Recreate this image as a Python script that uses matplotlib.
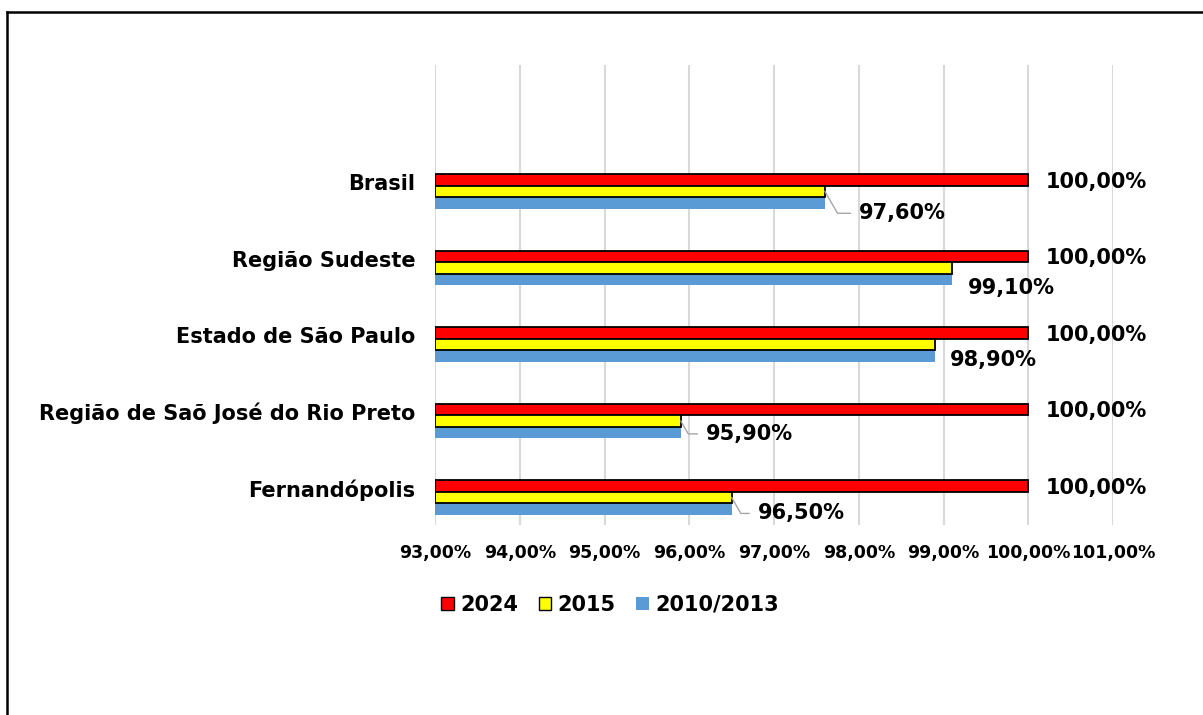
import matplotlib
matplotlib.use('Agg')
from matplotlib import pyplot as plt
from matplotlib.lines import Line2D
from matplotlib.patches import Patch
import numpy as np

categories = ['Brasil', 'Região Sudeste', 'Estado de São Paulo',
              'Região de Saõ José do Rio Preto', 'Fernandópolis']
series_names = ['2024', '2015', '2010/2013']
v2024 = [100.0, 100.0, 100.0, 100.0, 100.0]
v2015 = [97.6, 99.1, 98.9, 95.9, 96.5]
v2010 = [97.6, 99.1, 98.9, 95.9, 96.5]
x_ticks = [93, 94, 95, 96, 97, 98, 99, 100, 101]

# label offsets (pixels) of the 2015 labels from the bar end, and whether a leader line shows
label_offsets = [(34, -22, True), (16, -20, False), (15, -16, False), (25, -13, True), (26, -16, True)]

plt.rcParams['font.family'] = 'DejaVu Sans'
plt.rcParams['font.weight'] = 'bold'

red = '#FF0000'
yellow = '#FFFF00'
blue = '#5B9BD5'
fs = 15

def pct(v):
	return '{:.2f}%'.format(v).replace('.', ',')

def main():
	fig = plt.figure(figsize=(12.03, 7.15), dpi=100)
	ax = fig.add_axes([435 / 1203, 1 - 525 / 715, 678 / 1203, 460 / 715])

	n = len(categories)
	pos = np.arange(n)[::-1].astype(float)
	h = 0.15
	ax.barh(pos + 0.03, np.array(v2024) - 93, left=93, height=h, color=red,
		edgecolor='black', linewidth=1.3, zorder=3)
	ax.barh(pos - 0.12, np.array(v2015) - 93, left=93, height=h, color=yellow,
		edgecolor='black', linewidth=1.3, zorder=3)
	ax.barh(pos - 0.27, np.array(v2010) - 93, left=93, height=h, color=blue,
		linewidth=0, zorder=2)

	for i in range(n):
		ax.annotate(pct(v2024[i]), xy=(v2024[i], pos[i] + 0.03), xytext=(17, -2),
			textcoords='offset pixels', va='center', ha='left', fontsize=fs,
			fontweight='bold', annotation_clip=False)
		dx, dy, leader = label_offsets[i]
		arrow = None
		if leader:
			arrow = dict(arrowstyle='-', color='#A6A6A6', lw=1.0, relpos=(0, 0.5),
				connectionstyle='angle,angleA=0,angleB=-60,rad=0', shrinkA=4, shrinkB=0)
		ax.annotate(pct(v2015[i]), xy=(v2015[i], pos[i] - 0.12), xytext=(dx, dy),
			textcoords='offset pixels', va='center', ha='left', fontsize=fs,
			fontweight='bold', arrowprops=arrow, annotation_clip=False)

	ax.set_xlim(93, 101)
	ax.set_ylim(-0.48, 5.53)
	ax.set_xticks(x_ticks)
	# slightly smaller so the crowded percent labels stay apart
	ax.set_xticklabels([pct(t) for t in x_ticks], fontsize=12.5, fontweight='bold')
	ax.set_yticks(pos)
	ax.set_yticklabels(categories, fontsize=fs, fontweight='bold')
	ax.tick_params(axis='both', length=0)
	ax.tick_params(axis='x', pad=14)
	ax.tick_params(axis='y', pad=14)
	ax.grid(axis='x', color='#D9D9D9', linewidth=1.5, zorder=0)
	ax.set_axisbelow(True)
	for s in ax.spines.values():
		s.set_visible(False)

	handles = [Patch(facecolor=red, edgecolor='black', linewidth=1.0),
		Patch(facecolor=yellow, edgecolor='black', linewidth=1.0),
		Patch(facecolor=blue, edgecolor='none')]
	fig.legend(handles, series_names, loc='center', bbox_to_anchor=(610 / 1203, 1 - 605 / 715),
		ncol=3, frameon=False, prop={'size': fs, 'weight': 'bold'},
		handlelength=0.6, handleheight=0.6, handletextpad=0.3, columnspacing=1.0)

	# outer frame (top and left edges visible)
	fig.add_artist(Line2D([7 / 1203, 1], [1 - 12 / 715, 1 - 12 / 715], color='black', lw=1.8,
		transform=fig.transFigure))
	fig.add_artist(Line2D([7 / 1203, 7 / 1203], [0, 1 - 12 / 715], color='black', lw=1.8,
		transform=fig.transFigure))

	fig.savefig('out.png', dpi=100)


if __name__ == '__main__':
	main()
